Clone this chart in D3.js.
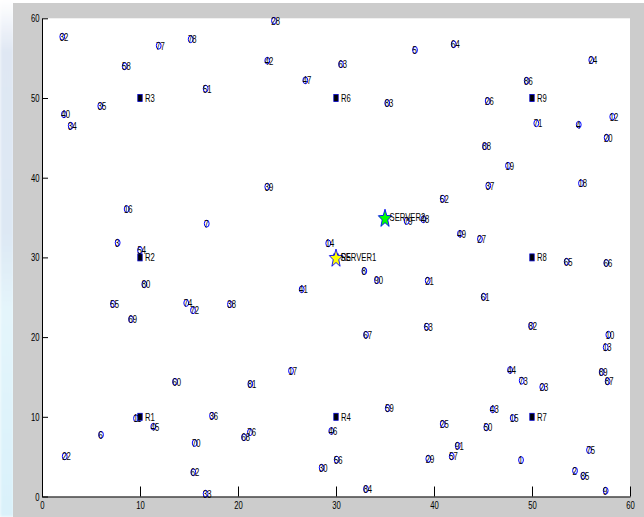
<!DOCTYPE html>
<html>
<head>
<meta charset="utf-8">
<script src="https://cdn.jsdelivr.net/npm/d3@7"></script>
<style>
  html, body { margin: 0; padding: 0; background: #ffffff; }
  svg { display: block; }
  text { font-family: "Liberation Sans Narrow", "Arial Narrow", "Liberation Sans", sans-serif; }
</style>
</head>
<body>
<svg id="chart" width="644" height="517"></svg>
<script>
// Sensor node positions (field units) and their ids
const nodeX = [2.07, 11.91, 15.17, 8.44, 16.70, 5.95, 2.24, 2.93, 23.67, 22.99,
  30.51, 26.87, 35.23, 38.06, 42.01, 56.05, 49.46, 45.48, 50.44, 54.77,
  58.19, 57.62, 45.20, 47.55, 8.64, 16.81, 7.72, 10.00, 10.44, 7.24,
  14.72, 15.41, 9.08, 22.99, 37.21, 29.21, 32.89, 34.18, 26.50, 19.18,
  45.54, 55.00, 40.89, 38.91, 42.65, 44.69, 53.54, 57.58, 39.36, 45.07,
  39.26, 49.90, 13.57, 9.59, 11.36, 17.35, 6.02, 15.58, 2.32, 15.44,
  16.70, 33.06, 25.41, 21.26, 35.28, 29.52, 21.22, 20.61, 30.07, 28.54,
  33.06, 57.79, 57.52, 47.76, 48.95, 57.11, 57.72, 51.05, 45.99, 48.03,
  40.89, 45.34, 42.42, 41.81, 39.42, 48.88, 55.82, 54.39, 55.23, 57.52];
const nodeY = [57.69, 56.56, 57.37, 53.98, 51.17, 49.00, 47.95, 46.52, 59.70, 54.68,
  54.23, 52.22, 49.37, 56.02, 56.74, 54.77, 52.17, 49.62, 46.83, 46.65,
  47.65, 45.02, 43.94, 41.51, 36.07, 34.23, 31.84, 30.89, 26.63, 24.15,
  24.28, 23.36, 22.23, 38.87, 34.57, 31.77, 28.29, 27.13, 26.00, 24.12,
  39.00, 39.30, 37.36, 34.78, 32.97, 32.31, 29.46, 29.30, 27.08, 25.07,
  21.30, 21.43, 14.40, 9.81, 8.76, 10.14, 7.75, 6.71, 5.04, 3.04,
  0.35, 20.30, 15.78, 14.12, 11.07, 8.22, 8.06, 7.43, 4.62, 3.61,
  0.94, 20.30, 18.72, 15.87, 14.53, 15.62, 14.45, 13.74, 10.94, 9.85,
  9.10, 8.68, 6.37, 5.04, 4.74, 4.58, 5.83, 3.24, 2.61, 0.73];
const nodeLabels = ["32", "77", "78", "58", "51", "35", "40", "34", "28", "42",
  "63", "47", "83", "5", "64", "24", "86", "26", "71", "4",
  "12", "20", "88", "19", "16", "7", "3", "54", "80", "55",
  "74", "72", "69", "39", "79", "14", "8", "90", "41", "38",
  "37", "18", "52", "48", "49", "27", "65", "66", "21", "61",
  "53", "82", "60", "11", "45", "36", "6", "70", "22", "62",
  "33", "67", "17", "81", "59", "46", "76", "68", "56", "30",
  "84", "10", "13", "44", "73", "89", "87", "23", "43", "15",
  "25", "50", "91", "57", "29", "1", "75", "2", "85", "9"];

// Routers
const routerX = [10, 10, 10, 30, 30, 30, 50, 50, 50];
const routerY = [10, 30, 50, 10, 30, 50, 10, 30, 50];
const routerLabels = ["R1", "R2", "R3", "R4", "R5", "R6", "R7", "R8", "R9"];

// Servers
const serverX = [30, 35];
const serverY = [30, 35];
const serverLabels = ["SERVER1", "SERVER2"];

// Axis ticks
const xTicks = [0, 10, 20, 30, 40, 50, 60];
const yTicks = [0, 10, 20, 30, 40, 50, 60];

const W = 644, H = 517;
const plot = { left: 42, right: 630, top: 18.3, bottom: 496.5 };
const serverFill = { SERVER1: "#ffff00", SERVER2: "#00ff00" };
const squeeze = 0.7; // horizontal text condensing

const svg = d3.select("#chart");

// Background strip on the far left
const defs = svg.append("defs");
const grad = defs.append("linearGradient").attr("id", "strip").attr("x1", 0).attr("x2", 0).attr("y1", 0).attr("y2", 1);
grad.append("stop").attr("offset", "0%").attr("stop-color", "#ffffff");
grad.append("stop").attr("offset", "10%").attr("stop-color", "#dfe7f3");
grad.append("stop").attr("offset", "45%").attr("stop-color", "#dde8f4");
grad.append("stop").attr("offset", "60%").attr("stop-color", "#e4f5fb");
grad.append("stop").attr("offset", "100%").attr("stop-color", "#d9f1fa");
defs.append("filter").attr("id", "soft").append("feGaussianBlur").attr("stdDeviation", 1.5);
svg.append("rect").attr("x", 0).attr("y", 0).attr("width", 14).attr("height", H)
  .attr("fill", "url(#strip)").attr("filter", "url(#soft)");

// Figure and axes backgrounds
svg.append("rect").attr("x", 13).attr("y", 3).attr("width", W - 13).attr("height", H - 3).attr("fill", "#cccccc");
svg.append("rect").attr("x", plot.left).attr("y", plot.top)
  .attr("width", plot.right - plot.left).attr("height", plot.bottom - plot.top).attr("fill", "#ffffff");

const x = d3.scaleLinear().domain([0, 60]).range([plot.left, plot.right]);
const y = d3.scaleLinear().domain([0, 60]).range([plot.bottom, plot.top]);

// Axes with inward ticks
const gx = svg.append("g").attr("transform", `translate(0,${plot.bottom})`)
  .call(d3.axisBottom(x).tickValues(xTicks).tickSizeInner(-10).tickSizeOuter(0).tickPadding(5).tickFormat(d3.format("d")));
const gy = svg.append("g").attr("transform", `translate(${plot.left},0)`)
  .call(d3.axisLeft(y).tickValues(yTicks).tickSizeInner(-6).tickSizeOuter(0).tickPadding(3).tickFormat(d3.format("d")));
[gx, gy].forEach(g => {
  g.select(".domain").attr("stroke", "#000").attr("stroke-width", 1);
  g.selectAll(".tick line").attr("stroke", "#000");
  g.selectAll(".tick text").attr("fill", "#000").attr("font-size", 11)
    .attr("font-family", "Liberation Sans Narrow, Arial Narrow, sans-serif")
    .attr("transform", `scale(${squeeze},1)`);
});
gy.selectAll(".tick text").attr("x", -2.5 / squeeze);

// Node markers
const nodes = nodeX.map((d, i) => ({ x: d, y: nodeY[i], label: nodeLabels[i] }));
svg.append("g").selectAll("ellipse").data(nodes).join("ellipse")
  .attr("cx", d => x(d.x)).attr("cy", d => y(d.y))
  .attr("rx", 2.4).attr("ry", 3.4)
  .attr("fill", "none").attr("stroke", "#0000ff").attr("stroke-width", 1);

// Routers
const routers = routerX.map((d, i) => ({ x: d, y: routerY[i], label: routerLabels[i] }));
svg.append("g").selectAll("rect").data(routers).join("rect")
  .attr("x", d => x(d.x) - 2.2).attr("y", d => y(d.y) - 3.5)
  .attr("width", 4.4).attr("height", 7)
  .attr("fill", "#000").attr("stroke", "#0000cc").attr("stroke-width", 0.8);

// Servers as pentagrams
function starPath(w, h) {
  const pts = [];
  for (let k = 0; k < 10; k++) {
    const a = -Math.PI / 2 + k * Math.PI / 5;
    const r = k % 2 === 0 ? 1 : 0.42;
    pts.push([Math.cos(a) * r * w / 2, Math.sin(a) * r * h / 2 + h * 0.06]);
  }
  return "M" + pts.map(p => p.join(",")).join("L") + "Z";
}
const servers = serverX.map((d, i) => ({ x: d, y: serverY[i], label: serverLabels[i] }));
svg.append("g").selectAll("path").data(servers).join("path")
  .attr("d", starPath(14, 19))
  .attr("transform", d => `translate(${x(d.x)},${y(d.y)})`)
  .attr("fill", d => serverFill[d.label]).attr("stroke", "#0000ff").attr("stroke-width", 0.9);

// Text labels
function addLabels(data, dx) {
  svg.append("g").selectAll("text").data(data).join("text")
    .attr("transform", d => `translate(${x(d.x) + dx},${y(d.y)}) scale(${squeeze},1)`)
    .attr("dy", "0.35em").attr("font-size", 11).attr("fill", "#000")
    .text(d => d.label);
}
addLabels(nodes, -2.6);
addLabels(routers, 5);
addLabels(servers, 4.5);
</script>
</body>
</html>
